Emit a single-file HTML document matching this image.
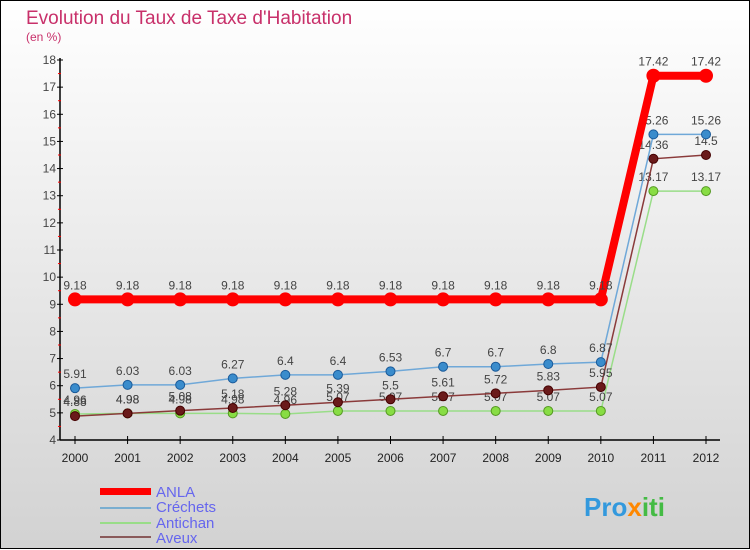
<!DOCTYPE html>
<html><head><meta charset="utf-8"><style>
html,body{margin:0;padding:0}
body{width:750px;height:550px;overflow:hidden}
svg{display:block;font-family:"Liberation Sans",sans-serif}
</style></head><body>
<svg id="chart" width="750" height="550">
<defs><linearGradient id="bg" x1="0" y1="0" x2="0" y2="1"><stop offset="0" stop-color="#ffffff"/><stop offset="1" stop-color="#d2d2d2"/></linearGradient></defs>
<rect x="0.5" y="0.5" width="749" height="548" fill="url(#bg)" stroke="#000"/>
<text x="26" y="24" font-size="19" fill="#c8306a">Evolution du Taux de Taxe d'Habitation</text>
<text x="26" y="41" font-size="12" fill="#c8306a">(en %)</text>
<g id="axes"></g><g id="series"></g>
<g>
<rect x="100" y="488" width="51" height="7" fill="#f00"/>
<text x="156" y="497" font-size="15" fill="#6666ee">ANLA</text>
<rect x="100" y="507" width="51" height="2" fill="#7aaed0"/>
<text x="156" y="512" font-size="15" fill="#6666ee">Créchets</text>
<rect x="100" y="522" width="51" height="2" fill="#99dd88"/>
<text x="156" y="528" font-size="15" fill="#6666ee">Antichan</text>
<rect x="100" y="536" width="51" height="2" fill="#8a5a5a"/>
<text x="156" y="543" font-size="15" fill="#6666ee">Aveux</text>
</g>
<text x="584" y="516" font-size="26" font-weight="bold" fill="#3399dd">Pro<tspan fill="#ff8800">x</tspan><tspan fill="#44bb44">iti</tspan></text>
</svg>
<script>
const years=[2000,2001,2002,2003,2004,2005,2006,2007,2008,2009,2010,2011,2012];
const anla=[9.18,9.18,9.18,9.18,9.18,9.18,9.18,9.18,9.18,9.18,9.18,17.42,17.42];
const crechets=[5.91,6.03,6.03,6.27,6.4,6.4,6.53,6.7,6.7,6.8,6.87,15.26,15.26];
const antichan=[4.96,4.98,4.98,4.98,4.96,5.07,5.07,5.07,5.07,5.07,5.07,13.17,13.17];
const aveux=[4.88,4.98,5.08,5.18,5.28,5.39,5.5,5.61,5.72,5.83,5.95,14.36,14.5];
const yTicks=[4,5,6,7,8,9,10,11,12,13,14,15,16,17,18];
const NS="http://www.w3.org/2000/svg";
const X=i=>75+i*(706-75)/(years.length-1);
const Y=v=>440-(v-4)*(440-60)/14;
function mk(t,a,p){const e=document.createElementNS(NS,t);for(const k in a)e.setAttribute(k,a[k]);p.appendChild(e);return e;}
const ax=document.getElementById('axes');
let yl=mk('line',{x1:60,y1:58,x2:60,y2:440,stroke:'#000','stroke-width':1.5},ax);


let xl=mk('line',{x1:60,y1:440,x2:720,y2:440,stroke:'#000','stroke-width':1.5},ax);


yTicks.forEach(v=>{
  mk('line',{x1:57,y1:Y(v),x2:63,y2:Y(v),stroke:'#000'},ax);
  if(v<18)mk('line',{x1:58,y1:Y(v+0.5),x2:61,y2:Y(v+0.5),stroke:'#f00'},ax);
  const t=mk('text',{x:56,y:Y(v)+4,'font-size':12,'text-anchor':'end',fill:'#444'},ax);
  t.textContent=v;
  
  
});
years.forEach((yr,i)=>{
  mk('line',{x1:X(i),y1:436,x2:X(i),y2:444,stroke:'#000'},ax);
  const t=mk('text',{x:X(i),y:462,'font-size':12,'text-anchor':'middle',fill:'#222'},ax);
  t.textContent=yr;
  
  
});
const sg=document.getElementById('series');
function draw(name,vals,col,dot,w,r,dark){
  const g=mk('g',{},sg);
  
  
  const pl=mk('polyline',{points:vals.map((v,i)=>X(i)+','+Y(v)).join(' '),fill:'none',stroke:col,'stroke-width':w},g);
  
  
  vals.forEach((v,i)=>{
    const c=mk('circle',{cx:X(i),cy:Y(v),r:r,fill:dot,stroke:dark,'stroke-width':1},g);
    
    
    const t=mk('text',{x:X(i),y:Y(v)-10,'font-size':12,'text-anchor':'middle',fill:'#444'},g);
    t.textContent=v;
    
    
  });
}
draw('antichan',antichan,'#99dd88','#88dd44',1.5,4.5,'#559922');
draw('aveux',aveux,'#8a3a3a','#6a1a1a',1.5,4.5,'#440000');
draw('crechets',crechets,'#6fa8d8','#3a8ccc',1.5,4.5,'#1a5a99');
draw('anla',anla,'#ff0000','#ff0000',8,6.5,'#ff0000');
</script>
</body></html>
